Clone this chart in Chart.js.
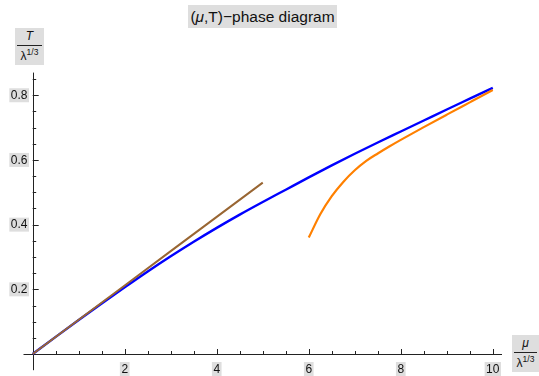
<!DOCTYPE html>
<html>
<head>
<meta charset="utf-8">
<script src="https://cdn.jsdelivr.net/npm/chart.js@4.4.0/dist/chart.umd.min.js"></script>
<style>
  body { margin: 0; background: #fff; }
  #wrap { position: relative; width: 539px; height: 376px; font-family: "Liberation Sans", Arial, sans-serif; color: #111; }
  canvas { position: absolute; left: 0; top: 0; }
  .lbl { position: absolute; background: #dedede; }
  .frac span { position: absolute; left: 0; right: 0; text-align: center; font-size: 12px; line-height: 14px; }
  .frac .bar { position: absolute; left: 2px; right: 2px; height: 0; border-top: 1px solid #222; }
  sup { font-size: 8.5px; line-height: 0; vertical-align: 5px; }
</style>
</head>
<body>
<div id="wrap">
  <canvas id="myChart" width="539" height="376"></canvas>
  <div class="lbl" style="left:188px; top:5px; width:149px; height:23px; line-height:23px; font-size:15.5px; text-align:center; white-space:nowrap;">(<i>μ</i>,T)−phase diagram</div>
  <div class="lbl frac" style="left:15px; top:28px; width:29px; height:37px;">
    <span style="top:1px;"><i>T</i></span>
    <div class="bar" style="top:17px;"></div>
    <span style="top:21px;">λ<sup>1/3</sup></span>
  </div>
  <div class="lbl frac" style="left:512px; top:335px; width:27px; height:37px;">
    <span style="top:1px;"><i>μ</i></span>
    <div class="bar" style="top:17px;"></div>
    <span style="top:21px;">λ<sup>1/3</sup></span>
  </div>
</div>
<script>
// values
const blueMu = [0, 0.5, 1, 1.5, 2, 2.5, 3, 3.5, 4, 4.5, 5, 5.5, 6, 6.5, 7, 7.5, 8, 8.5, 9, 9.5, 10];
const blueT = [0, 0.053, 0.105, 0.156, 0.206, 0.255, 0.302, 0.347, 0.39, 0.431, 0.47, 0.508, 0.546, 0.583, 0.619, 0.654, 0.688, 0.722, 0.756, 0.7895, 0.823];

const brownMu = [0, 1, 2, 3, 4, 5];
const brownT = [0, 0.106, 0.212, 0.318, 0.424, 0.53];

const orangeMu = [6, 6.25, 6.5, 6.75, 7, 7.25, 7.5, 7.75, 8, 8.5, 9, 9.5, 10];
const orangeT = [0.36, 0.432, 0.488, 0.532, 0.568, 0.597, 0.62, 0.6415, 0.662, 0.7015, 0.74, 0.778, 0.816];

const xTickLabels = [2, 4, 6, 8, 10];
const yTickLabels = [0.2, 0.4, 0.6, 0.8];

function toPoints(xs, ys) {
  return xs.map(function(x, i) { return { x: x, y: ys[i] }; });
}

// Mathematica-style axes crossing at the origin
const axesPlugin = {
  id: "axes",
  beforeDatasetsDraw: function(chart) {
    const ctx = chart.ctx;
    const sx = chart.scales.x;
    const sy = chart.scales.y;
    const x0 = sx.getPixelForValue(0);
    const y0 = sy.getPixelForValue(0);
    ctx.save();
    ctx.strokeStyle = "#222";
    ctx.lineWidth = 1;
    ctx.beginPath();
    ctx.moveTo(sx.getPixelForValue(sx.min), Math.round(y0) + 0.5);
    ctx.lineTo(sx.getPixelForValue(sx.max), Math.round(y0) + 0.5);
    ctx.moveTo(Math.round(x0) + 0.5, sy.getPixelForValue(sy.min));
    ctx.lineTo(Math.round(x0) + 0.5, sy.getPixelForValue(sy.max));
    // x ticks every 0.5
    for (let i = 1; i <= 20; i++) {
      const px = Math.round(sx.getPixelForValue(i * 0.5)) + 0.5;
      const len = (i % 4 === 0) ? 5 : 3;
      ctx.moveTo(px, y0);
      ctx.lineTo(px, y0 - len);
    }
    // y ticks every 0.05
    for (let i = 1; i <= 17; i++) {
      const py = Math.round(sy.getPixelForValue(i * 0.05)) + 0.5;
      const len = (i % 4 === 0) ? 6 : 3.5;
      ctx.moveTo(x0, py);
      ctx.lineTo(x0 + len, py);
    }
    ctx.stroke();

    ctx.font = "12px 'Liberation Sans', Arial, sans-serif";
    ctx.textBaseline = "middle";
    xTickLabels.forEach(function(v) {
      const txt = String(v);
      const px = sx.getPixelForValue(v);
      const w = ctx.measureText(txt).width;
      ctx.fillStyle = "#dedede";
      ctx.fillRect(px - w / 2 - 1.5, 362, w + 3, 15);
      ctx.fillStyle = "#111";
      ctx.textAlign = "center";
      ctx.fillText(txt, px, 369.5);
    });
    yTickLabels.forEach(function(v) {
      const txt = v.toFixed(1);
      const py = sy.getPixelForValue(v);
      const w = ctx.measureText(txt).width;
      ctx.fillStyle = "#dedede";
      ctx.fillRect(27.5 - w - 1.5, py - 7, w + 3, 14);
      ctx.fillStyle = "#111";
      ctx.textAlign = "right";
      ctx.fillText(txt, 27.5, py + 0.5);
    });
    ctx.restore();
  }
};

new Chart(document.getElementById("myChart"), {
  type: "scatter",
  data: {
    datasets: [
      {
        label: "brown",
        data: toPoints(brownMu, brownT),
        showLine: true,
        borderColor: "rgb(153, 102, 51)",
        borderWidth: 2,
        pointRadius: 0
      },
      {
        label: "orange",
        data: toPoints(orangeMu, orangeT),
        showLine: true,
        borderColor: "rgb(255, 128, 0)",
        borderWidth: 2.2,
        pointRadius: 0,
        cubicInterpolationMode: "monotone"
      },
      {
        label: "blue",
        data: toPoints(blueMu, blueT),
        showLine: true,
        borderColor: "rgb(0, 0, 255)",
        borderWidth: 2.4,
        pointRadius: 0,
        cubicInterpolationMode: "monotone"
      }
    ]
  },
  options: {
    responsive: false,
    animation: false,
    layout: { padding: { left: 23.5, right: 37, top: 72.6, bottom: 5.8 } },
    plugins: { legend: { display: false }, tooltip: { enabled: false } },
    scales: {
      x: { type: "linear", min: -0.2, max: 10.2, display: false },
      y: { type: "linear", min: -0.05, max: 0.87, display: false }
    }
  },
  plugins: [axesPlugin]
});
</script>
</body>
</html>
